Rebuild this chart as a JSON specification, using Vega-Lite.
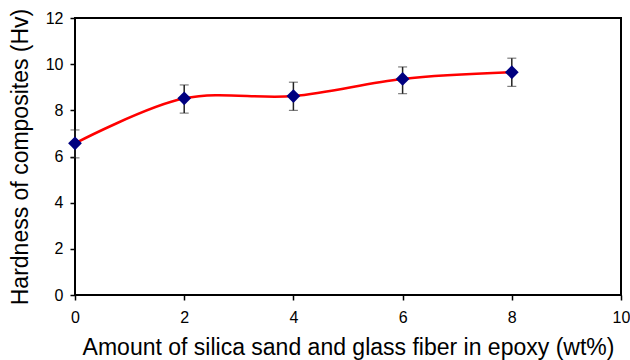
{
  "$schema": "https://vega.github.io/schema/vega-lite/v6.json",
  "width": 546,
  "height": 277,
  "autosize": "none",
  "padding": {"left": 75, "top": 18, "right": 9, "bottom": 65},
  "background": "white",
  "config": {
    "view": {"stroke": "black", "strokeWidth": 2},
    "font": "Liberation Sans",
    "axis": {
      "grid": false,
      "domain": false,
      "tickColor": "black",
      "tickWidth": 1.5,
      "tickSize": 5,
      "labelFont": "Liberation Sans",
      "labelFontSize": 16,
      "labelColor": "black",
      "titleFont": "Liberation Sans",
      "titleFontSize": 23,
      "titleFontWeight": "normal",
      "titleColor": "black"
    }
  },
  "data": {
    "values": [
      {"x": 0, "y": 6.57, "lo": 5.94, "hi": 7.15},
      {"x": 2, "y": 8.52, "lo": 7.88, "hi": 9.1},
      {"x": 4, "y": 8.62, "lo": 8.0, "hi": 9.22},
      {"x": 6, "y": 9.36, "lo": 8.72, "hi": 9.88},
      {"x": 8, "y": 9.65, "lo": 9.04, "hi": 10.26}
    ]
  },
  "encoding": {
    "x": {
      "field": "x",
      "type": "quantitative",
      "scale": {"domain": [0, 10], "nice": false},
      "axis": {"values": [0, 2, 4, 6, 8, 10], "title": "Amount of silica sand and glass fiber in epoxy (wt%)", "labelPadding": 9, "titlePadding": 11, "labelFlush": false}
    }
  },
  "layer": [
    {
      "mark": {"type": "line", "color": "#ff0000", "strokeWidth": 2.5, "interpolate": "catmull-rom"},
      "encoding": {
        "y": {
          "field": "y",
          "type": "quantitative",
          "title": "Hardness of composites (Hv)",
          "scale": {"domain": [0, 12], "nice": false},
          "axis": {"values": [0, 2, 4, 6, 8, 10, 12], "labelPadding": 7, "titlePadding": 13, "labelFlush": false}
        }
      }
    },
    {
      "mark": {"type": "errorbar", "ticks": {"size": 9, "color": "#222222"}, "rule": {"color": "#222222", "strokeWidth": 1.5}},
      "encoding": {
        "y": {"field": "lo", "type": "quantitative", "title": "Hardness of composites (Hv)"},
        "y2": {"field": "hi"}
      }
    },
    {
      "mark": {"type": "point", "shape": "diamond", "filled": true, "color": "#000080", "size": 190, "opacity": 1},
      "encoding": {
        "y": {"field": "y", "type": "quantitative", "title": "Hardness of composites (Hv)"}
      }
    }
  ]
}
